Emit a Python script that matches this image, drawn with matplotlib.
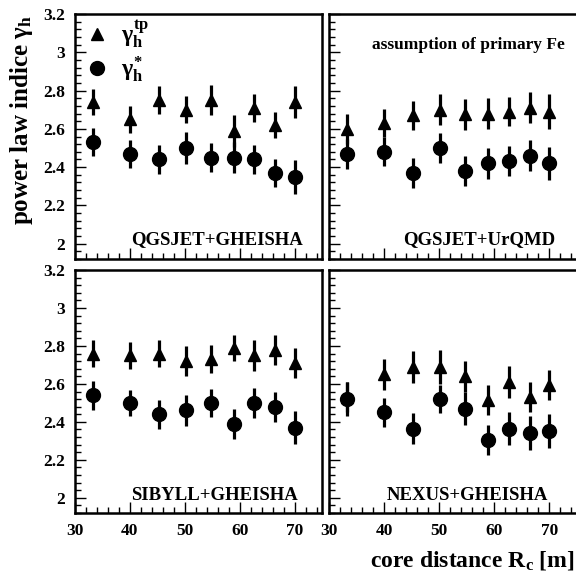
import matplotlib
matplotlib.use("Agg")
import matplotlib.pyplot as plt
from matplotlib.lines import Line2D
from matplotlib.ticker import MultipleLocator

plt.rcParams['font.family'] = ['Liberation Serif', 'DejaVu Serif']
plt.rcParams['font.weight'] = 'bold'
plt.rcParams['mathtext.fontset'] = 'custom'
plt.rcParams['mathtext.rm'] = 'Liberation Serif:bold'
plt.rcParams['mathtext.it'] = 'Liberation Serif:bold'
plt.rcParams['mathtext.bf'] = 'Liberation Serif:bold'

# core distance bins [m]
rc = [33.3, 40.0, 45.3, 50.2, 54.7, 58.9, 62.6, 66.4, 70.0]

# QGSJET+GHEISHA
qg_tp = [2.74, 2.65, 2.75, 2.70, 2.75, 2.59, 2.71, 2.62, 2.74]
qg_tp_err = [0.07, 0.07, 0.074, 0.07, 0.078, 0.083, 0.074, 0.07, 0.084]
qg_st = [2.53, 2.47, 2.44, 2.50, 2.45, 2.45, 2.44, 2.37, 2.35]
qg_st_err = [0.074, 0.074, 0.074, 0.083, 0.078, 0.083, 0.078, 0.074, 0.089]

# QGSJET+UrQMD
qu_tp = [2.60, 2.63, 2.67, 2.70, 2.675, 2.68, 2.69, 2.71, 2.69]
qu_tp_err = [0.078, 0.075, 0.078, 0.082, 0.08, 0.08, 0.075, 0.08, 0.09]
qu_st = [2.47, 2.48, 2.37, 2.50, 2.38, 2.42, 2.43, 2.46, 2.42]
qu_st_err = [0.078, 0.075, 0.078, 0.08, 0.08, 0.08, 0.078, 0.08, 0.085]

# SIBYLL+GHEISHA
sg_tp = [2.76, 2.75, 2.76, 2.72, 2.73, 2.79, 2.75, 2.78, 2.71]
sg_tp_err = [0.07, 0.07, 0.07, 0.08, 0.075, 0.07, 0.08, 0.08, 0.08]
sg_st = [2.54, 2.50, 2.44, 2.46, 2.50, 2.39, 2.50, 2.48, 2.37]
sg_st_err = [0.075, 0.07, 0.075, 0.08, 0.075, 0.08, 0.08, 0.08, 0.085]

# NEXUS+GHEISHA
ng_tp = [2.53, 2.65, 2.69, 2.69, 2.64, 2.515, 2.61, 2.53, 2.595]
ng_tp_err = [0.08, 0.08, 0.085, 0.09, 0.08, 0.08, 0.085, 0.08, 0.08]
ng_st = [2.52, 2.45, 2.365, 2.52, 2.47, 2.305, 2.365, 2.34, 2.35]
ng_st_err = [0.09, 0.075, 0.08, 0.075, 0.085, 0.08, 0.085, 0.09, 0.09]

panels = [
    ("QGSJET+GHEISHA", qg_tp, qg_tp_err, qg_st, qg_st_err),
    ("QGSJET+UrQMD", qu_tp, qu_tp_err, qu_st, qu_st_err),
    ("SIBYLL+GHEISHA", sg_tp, sg_tp_err, sg_st, sg_st_err),
    ("NEXUS+GHEISHA", ng_tp, ng_tp_err, ng_st, ng_st_err),
]

W, H = 576, 577
fig = plt.figure(figsize=(W / 100, H / 100), dpi=100)

def frac(x0, x1, ytop, ybot):
    return [x0 / W, 1 - ybot / H, (x1 - x0) / W, (ybot - ytop) / H]

rects = [frac(75, 322, 14, 259), frac(329, 577, 14, 259),
         frac(75, 322, 270, 513), frac(329, 577, 270, 513)]
label_pos = [(0.923, 0.078), (0.911, 0.078), (0.903, 0.074), (0.883, 0.074)]

axes = []
for i, (name, tp, tpe, st, ste) in enumerate(panels):
    ax = fig.add_axes(rects[i])
    axes.append(ax)
    ax.errorbar(rc, tp, yerr=tpe, fmt='^', color='black', ms=8.5,
                elinewidth=2.3, capsize=0, zorder=3)
    ax.errorbar(rc, st, yerr=ste, fmt='o', color='black', ms=10,
                elinewidth=2.3, capsize=0, zorder=3)
    ax.set_xlim(30, 75)
    ax.set_ylim(1.92, 3.2)
    ax.xaxis.set_major_locator(MultipleLocator(10))
    ax.xaxis.set_minor_locator(MultipleLocator(2))
    ax.yaxis.set_major_locator(MultipleLocator(0.2))
    ax.yaxis.set_minor_locator(MultipleLocator(0.04))
    ax.tick_params(which='both', direction='in', top=False, right=False,
                   labelsize=12.5, width=1, pad=7)
    ax.tick_params(which='major', length=8)
    ax.tick_params(which='minor', length=4)
    for sp in ax.spines.values():
        sp.set_linewidth(1.8)
    if i in (0, 1):
        ax.tick_params(labelbottom=False)
    if i in (1, 3):
        ax.tick_params(labelleft=False)
    if i in (0, 2):
        ax.set_yticks([2, 2.2, 2.4, 2.6, 2.8, 3, 3.2])
        ax.set_yticklabels(['2', '2.2', '2.4', '2.6', '2.8', '3', '3.2'],
                           fontweight='bold')
    if i in (2, 3):
        ax.set_xticks([30, 40, 50, 60, 70])
        ax.set_xticklabels(['30', '40', '50', '60', '70'], fontweight='bold')
    ax.text(label_pos[i][0], label_pos[i][1], name, transform=ax.transAxes,
            ha='right', va='center', fontsize=13.5, fontweight='bold')

axes[1].text(0.952, 0.873, "assumption of primary Fe",
             transform=axes[1].transAxes, ha='right', va='center',
             fontsize=12.5, fontweight='bold')

handles = [Line2D([], [], marker='^', color='black', ls='none', ms=8.5),
           Line2D([], [], marker='o', color='black', ls='none', ms=10)]
axes[0].legend(handles, [r'$\gamma_{\rm h}^{\rm tp}$', r'$\gamma_{\rm h}^{*}$'],
               loc='upper left', bbox_to_anchor=(-0.07, 1.07), frameon=False,
               fontsize=17, handletextpad=0.3, labelspacing=0.2,
               handlelength=1.5)

fig.text(22 / W, 1 - 120 / H, r'power law indice $\gamma_{\rm h}$',
         rotation=90, ha='center', va='center', fontsize=18,
         fontweight='bold')
fig.text(574 / W, 1 - 560 / H, r'core distance R$_{\rm c}$ [m]',
         ha='right', va='center', fontsize=17, fontweight='bold')

fig.savefig("out.png", dpi=100)
